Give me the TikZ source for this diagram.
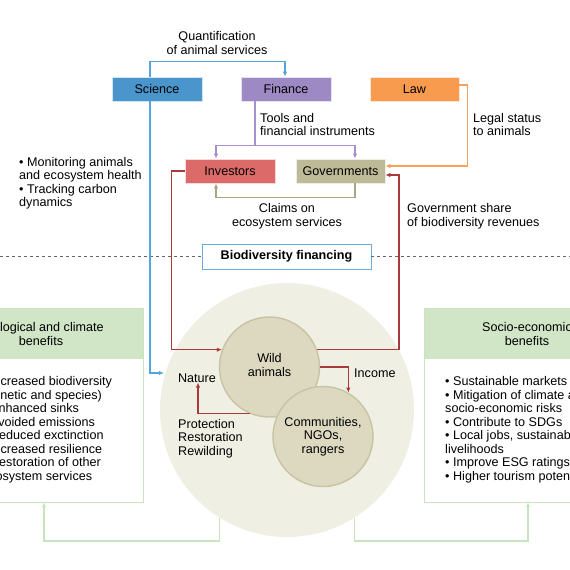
\documentclass[tikz,border=0pt]{standalone}
\usepackage{fontspec}
\setmainfont{Liberation Sans}
\usetikzlibrary{arrows.meta}
\definecolor{sciblue}{HTML}{4A95CB}
\definecolor{sciline}{HTML}{55A5DD}
\definecolor{finpurple}{HTML}{9D8AC4}
\definecolor{finline}{HTML}{A391CF}
\definecolor{laworange}{HTML}{F89B4F}
\definecolor{lawline}{HTML}{F9A05A}
\definecolor{invred}{HTML}{DC6A68}
\definecolor{govkhaki}{HTML}{BDBA98}
\definecolor{khakiline}{HTML}{A9A67F}
\definecolor{darkred}{HTML}{A83A3C}
\definecolor{biglight}{HTML}{EFEFE3}
\definecolor{circfill}{HTML}{DCD9C0}
\definecolor{circdraw}{HTML}{C8C3A5}
\definecolor{greenhead}{HTML}{D0E6C6}
\definecolor{greenline}{HTML}{C8E4BE}
\definecolor{bfborder}{HTML}{6AAEE0}
\begin{document}
\begin{tikzpicture}[x=1pt,y=-1pt,
  font=\fontsize{12.6}{13.5}\selectfont,
  catbox/.style={rectangle, minimum width=90pt, minimum height=24pt, inner sep=0pt, draw=white!75!#1, line width=0.8pt, fill=#1},
  lbl/.style={inner sep=0pt, align=left},
  conn/.style={line width=1.5pt, #1, -{Latex[length=5pt,width=4.5pt]}},
  plain/.style={line width=1.5pt, #1},
  smallc/.style={circle, minimum size=100pt, inner sep=0pt, fill=circfill, draw=circdraw, line width=1.4pt, align=center},
  ghead/.style={rectangle, minimum width=204pt, minimum height=50pt, inner sep=0pt, fill=greenhead, align=center},
  gbody/.style={rectangle, minimum width=204pt, minimum height=143pt, inner sep=0pt, fill=white},
]
\useasboundingbox (0,0) rectangle (570,570);
\clip (0,0) rectangle (570,570);

% background circle
\node[circle, minimum size=254pt, inner sep=0pt, fill=biglight] (big) at (287,410) {};

% category boxes
\node[catbox=sciblue] (science) at (157,89) {Science};
\node[catbox=finpurple] (finance) at (286,89) {Finance};
\node[catbox=laworange, minimum width=89pt] (law) at (414.5,89) {Law};
\node[catbox=invred] (investors) at (230,171) {Investors};
\node[catbox=govkhaki, minimum width=89pt] (governments) at (340.5,171) {Governments};

% dashed separator and biodiversity financing box
\node[rectangle, minimum width=169pt, minimum height=25pt, inner sep=0pt, draw=bfborder, line width=0.9pt, fill=white, font=\fontsize{12.6}{13.5}\selectfont\bfseries] (biofin) at (286.5,256.5) {Biodiversity financing};
\coordinate (dl) at (0,256.5);
\coordinate (dr) at (570,256.5);
\draw[gray!80!black, line width=0.8pt, dash pattern=on 3pt off 3pt] (dl) -- (biofin.west);
\draw[gray!80!black, line width=0.8pt, dash pattern=on 3pt off 3pt] (biofin.east) -- (dr);

% inner circles
\node[smallc] (wild) at (269.5,367) {};
\node[smallc] (comm) at (323,436.5) {Communities,\\NGOs,\\rangers};
\node[lbl, align=center] (wildtxt) at (269.5,365) {Wild\\animals};
\node[lbl] (nature) at (197,378) {Nature};
\node[lbl, anchor=west] (income) at (354,373) {Income};
\node[lbl, anchor=west] (protect) at (178,438.5) {Protection\\Restoration\\Rewilding};

% benefit boxes
\node[ghead] (lhead) at (41,334) {Ecological and climate\\benefits};
\node[gbody] (leftbox) at (41,430.5) {};
\draw[greenline, line width=1.2pt] (lhead.north west) rectangle (leftbox.south east);
\node[lbl, anchor=west] (ltext) at (-18,429.5) {• Increased biodiversity\\(genetic and species)\\• Enhanced sinks\\• Avoided emissions\\• Reduced exctinction\\• Increased resilience\\• Restoration of other\\ecosystem services};

\node[ghead] (rhead) at (527,334) {Socio-economic\\benefits};
\node[gbody] (rightbox) at (527,430.5) {};
\draw[greenline, line width=1.2pt] (rhead.north west) rectangle (rightbox.south east);
\node[lbl, anchor=west] (rtext) at (445,429.5) {• Sustainable markets\\• Mitigation of climate and\\socio-economic risks\\• Contribute to SDGs\\• Local jobs, sustainable\\livelihoods\\• Improve ESG ratings\\• Higher tourism potential};

% text labels
\node[lbl, align=center] (quant) at (217,43) {Quantification\\of animal services};
\node[lbl, anchor=west] (tools) at (260,124.5) {Tools and\\financial instruments};
\node[lbl, anchor=west] (legal) at (473,124.5) {Legal status\\to animals};
\node[lbl, anchor=west] (monitor) at (19,183) {• Monitoring animals\\and ecosystem health\\• Tracking carbon\\dynamics};
\node[lbl, align=center] (claims) at (287,216) {Claims on\\ecosystem services};
\node[lbl, anchor=west] (govshare) at (407,216) {Government share\\of biodiversity revenues};

% connectors
\coordinate (natin) at (164,373);
\draw[conn=sciline] ([xshift=-7pt]science.north) -- ++(0,-15) -| ([xshift=-1pt]finance.north);
\draw[conn=sciline] ([xshift=-7pt]science.south) |- (natin);
\draw[plain=finline] ([xshift=-31pt]finance.south) -- ++(0,44) coordinate (fj);
\draw[conn=finline] (fj) -| ([xshift=-14pt]investors.north);
\draw[conn=finline] (fj) -| ([xshift=14.5pt]governments.north);
\draw[conn=lawline] ([yshift=4pt]law.east) -- ++(8,0) |- ([yshift=5pt]governments.east);
\draw[conn=khakiline] ([xshift=14.5pt]governments.south) -- ++(0,14) -| ([xshift=-14pt]investors.south);
\draw[conn=darkred] (investors.west) -- ++(-13,0) |- (wild.160);
\draw[conn=darkred] (wild.20) -- ++(82,0) |- ([yshift=-4pt]governments.east);
\draw[conn=darkred] (wild.east) -| (comm.60);
\draw[conn=darkred] (wild.247) -| ([xshift=1pt]nature.south);
\draw[conn=greenline] (big.238) -- ++(0,23) -| ([xshift=3pt]leftbox.south);
\draw[conn=greenline] (big.302) -- ++(0,23) -| ([xshift=1pt]rightbox.south);
\end{tikzpicture}
\end{document}
